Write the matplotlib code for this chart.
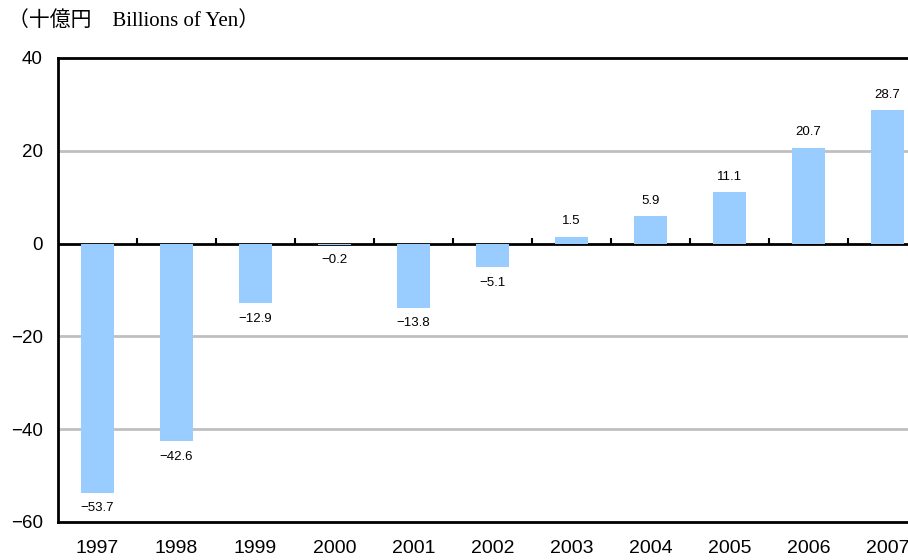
import matplotlib
matplotlib.use("Agg")
import matplotlib.pyplot as plt
import numpy as np

years = ["1997", "1998", "1999", "2000", "2001", "2002", "2003", "2004", "2005", "2006", "2007"]
values = [-53.7, -42.6, -12.9, -0.2, -13.8, -5.1, 1.5, 5.9, 11.1, 20.7, 28.7]
yticks = [40, 20, 0, -20, -40, -60]

plt.rcParams['font.family'] = ['Liberation Sans', 'Noto Sans CJK JP', 'DejaVu Sans']

W, H = 908, 560
fig = plt.figure(figsize=(W / 100, H / 100), dpi=100)
left, right, top, bottom = 58, 927, 58, 522
ax = fig.add_axes([left / W, 1 - bottom / H, (right - left) / W, (bottom - top) / H])

x = np.arange(len(years))
ax.bar(x, values, width=0.43, color="#99CCFF", zorder=5)
ax.set_xlim(-0.5, len(years) - 0.5)
ax.set_ylim(-60, 40)

for gy in [20, -20, -40]:
    ax.axhline(gy, color="#c0c0c0", lw=2, zorder=1)
ax.axhline(0, color="black", lw=2, zorder=4)
bounds = x[:-1] + 0.5
ax.vlines(bounds, 0, 1.3, color="black", lw=1.5, zorder=4)

for xi, v in zip(x, values):
    lab = f"{v:.1f}".replace("-", "\u2212")
    if v >= 0:
        ax.text(xi, v + 2.0, lab, ha="center", va="bottom", fontsize=9.5)
    else:
        ax.text(xi, v - 2.0, lab, ha="center", va="top", fontsize=9.5)

for s in ["left", "bottom", "top"]:
    ax.spines[s].set_linewidth(2)
    ax.spines[s].set_color("black")
ax.spines["right"].set_visible(False)

ax.set_yticks(yticks)
ax.set_yticklabels([str(t).replace("-", "\u2212") for t in yticks], fontsize=13.5)
ax.tick_params(axis="y", length=0, pad=11)
ax.set_xticks(x)
ax.set_xticklabels(years, fontsize=14)
ax.tick_params(axis="x", length=0, pad=13)

fig.text(8 / W, 1 - 21 / H, "（十億円　Billions of Yen）", fontsize=15,
         family=['Liberation Serif', 'Noto Sans CJK JP'], va="center", ha="left")

fig.savefig("out.png", dpi=100)
